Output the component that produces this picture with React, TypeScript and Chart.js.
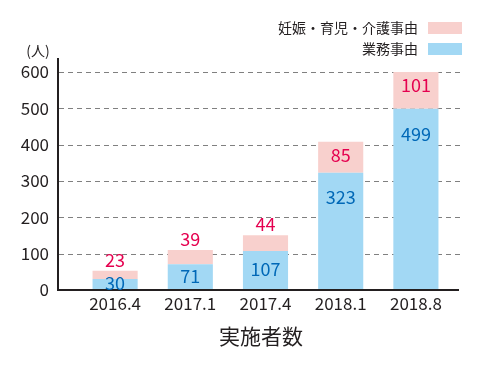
import React, { useEffect, useRef } from "react";
import { Chart, registerables } from "chart.js";

Chart.register(...registerables);

const categories = ["2016.4", "2017.1", "2017.4", "2018.1", "2018.8"];
const workValues = [30, 71, 107, 323, 499];
const careValues = [23, 39, 44, 85, 101];
const yTicks = [0, 100, 200, 300, 400, 500, 600];
const workLabel = "業務事由";
const careLabel = "妊娠・育児・介護事由";
const unitLabel = "(人)";
const xTitle = "実施者数";

const FONT = '"Noto Sans CJK JP", "Noto Sans", sans-serif';
const TEXT = "#231f20";
const BLUE = "#a2d8f4";
const PINK = "#f8d0cd";
const BLUE_TXT = "#0068b7";
const PINK_TXT = "#e5004f";

const drawPlugin = {
  id: "customDraw",
  beforeDatasetsDraw(chart: any) {
    const ctx = chart.ctx;
    const y = chart.scales.y;
    ctx.save();
    ctx.strokeStyle = "#808080";
    ctx.lineWidth = 1;
    ctx.setLineDash([5, 4]);
    yTicks.forEach((t) => {
      if (t === 0) return;
      const py = Math.round(y.getPixelForValue(t)) + 0.5;
      ctx.beginPath();
      ctx.moveTo(59, py);
      ctx.lineTo(464, py);
      ctx.stroke();
    });
    ctx.restore();
  },
  afterDatasetsDraw(chart: any) {
    const ctx = chart.ctx;
    const ys = chart.scales.y;
    const xs = chart.scales.x;
    ctx.save();
    // axes
    ctx.strokeStyle = TEXT;
    ctx.lineWidth = 2;
    ctx.setLineDash([]);
    const y0 = ys.getPixelForValue(0);
    ctx.beginPath();
    ctx.moveTo(58, 58);
    ctx.lineTo(58, y0 + 1);
    ctx.moveTo(57, y0);
    ctx.lineTo(459, y0);
    ctx.stroke();

    // y tick labels
    ctx.fillStyle = TEXT;
    ctx.font = `17px ${FONT}`;
    ctx.textAlign = "right";
    ctx.textBaseline = "middle";
    yTicks.forEach((t) => {
      ctx.fillText(String(t), 49, ys.getPixelForValue(t));
    });
    // unit
    ctx.font = `14px ${FONT}`;
    ctx.textAlign = "center";
    ctx.fillText(unitLabel, 38, 51);

    // x tick labels
    ctx.font = `17px ${FONT}`;
    categories.forEach((c, i) => {
      ctx.fillText(c, xs.getPixelForValue(i), y0 + 14);
    });
    // x title
    ctx.font = `21px ${FONT}`;
    ctx.fillText(xTitle, 261, 336);

    // legend
    ctx.font = `14px ${FONT}`;
    ctx.textAlign = "right";
    ctx.fillText(careLabel, 418, 28);
    ctx.fillText(workLabel, 418, 49);
    ctx.fillStyle = PINK;
    ctx.fillRect(428, 22, 34, 12);
    ctx.fillStyle = BLUE;
    ctx.fillRect(428, 43, 34, 12);

    // data labels
    ctx.font = `18px ${FONT}`;
    ctx.textAlign = "center";
    const m0 = chart.getDatasetMeta(0);
    const m1 = chart.getDatasetMeta(1);
    m0.data.forEach((bar: any, i: number) => {
      const h = bar.base - bar.y;
      const ly = bar.y + Math.min(h / 2 - 1, 25);
      ctx.fillStyle = BLUE_TXT;
      ctx.fillText(String(workValues[i]), bar.x, ly);
    });
    m1.data.forEach((bar: any, i: number) => {
      const h = bar.base - bar.y;
      const ly = h < 20 ? bar.y - 11 : bar.y + Math.min(h / 2, 13);
      ctx.fillStyle = PINK_TXT;
      ctx.fillText(String(careValues[i]), bar.x, ly);
    });
    ctx.restore();
  },
};

export default function App() {
  const ref = useRef<HTMLCanvasElement>(null);
  useEffect(() => {
    document.body.style.margin = "0";
    const chart = new Chart(ref.current as HTMLCanvasElement, {
      type: "bar",
      data: {
        labels: categories,
        datasets: [
          {
            label: workLabel,
            data: workValues,
            backgroundColor: BLUE,
            borderWidth: 0,
            barPercentage: 0.6,
            categoryPercentage: 1,
          },
          {
            label: careLabel,
            data: careValues,
            backgroundColor: PINK,
            borderWidth: 0,
            barPercentage: 0.6,
            categoryPercentage: 1,
          },
        ],
      },
      options: {
        animation: false,
        responsive: false,
        maintainAspectRatio: false,
        layout: { padding: { left: 77.5, right: 46.5, top: 72, bottom: 80 } },
        plugins: { legend: { display: false }, tooltip: { enabled: false } },
        scales: {
          x: { stacked: true, display: false, offset: true },
          y: { stacked: true, display: false, min: 0, max: 600 },
        },
      },
      plugins: [drawPlugin],
    });
    return () => chart.destroy();
  }, []);
  return (
    <div style={{ width: 500, height: 370 }}>
      <canvas ref={ref} width={500} height={370} style={{ display: "block" }} />
    </div>
  );
}
